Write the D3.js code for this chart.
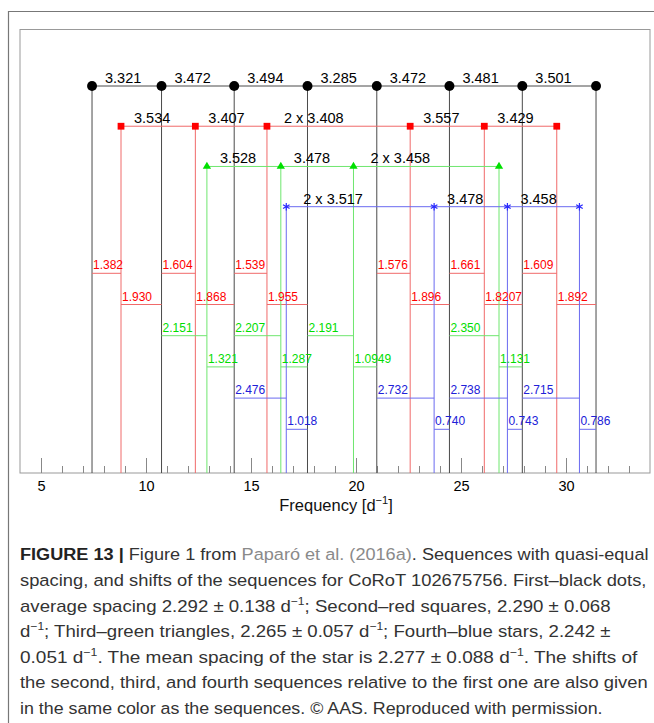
<!DOCTYPE html>
<html>
<head>
<meta charset="utf-8">
<script src="https://cdn.jsdelivr.net/npm/d3@7"></script>
<style>
body{margin:0;background:#fff;}
svg{display:block;font-family:"Liberation Sans",Arial,sans-serif;}
</style>
</head>
<body>
<svg id="graph" width="654" height="723"></svg>
<script>
// frequences des sequences (d-1)
var blackFreq = [7.43, 10.74, 14.20, 17.69, 20.99, 24.45, 27.92, 31.43];
var redFreq   = [8.81, 12.35, 15.76, 22.58, 26.11, 29.56];
var greenFreq = [12.90, 16.42, 19.88, 26.81];
var blueFreq  = [16.68, 23.72, 27.21, 30.64];

// espacements ecrits au dessus de chaque sequence
var blackSpacing = ["3.321", "3.472", "3.494", "3.285", "3.472", "3.481", "3.501"];
var redSpacing   = ["3.534", "3.407", "2 x 3.408", "3.557", "3.429"];
var greenSpacing = ["3.528", "3.478", "2 x 3.458"];
var blueSpacing  = ["2 x 3.517", "3.478", "3.458"];

// decalages par rapport a la premiere sequence (gauche / droite)
var redLeftShift    = ["1.382", "1.604", "1.539", "1.576", "1.661", "1.609"];
var redRightShift   = ["1.930", "1.868", "1.955", "1.896", "1.8207", "1.892"];
var greenLeftShift  = ["2.151", "2.207", "2.191", "2.350"];
var greenRightShift = ["1.321", "1.287", "1.0949", "1.131"];
var blueLeftShift   = ["2.476", "2.732", "2.738", "2.715"];
var blueRightShift  = ["1.018", "0.740", "0.743", "0.786"];

// axe x
var majorTicks = [5, 10, 15, 20, 25, 30];
var minorTicks = d3.range(5, 34);
var xTitle = "Frequency [d";

// legende sous la figure : [texte, style] b=gras g=gris s=exposant
var captionLines = [
  [["FIGURE 13 |", "b"], [" Figure 1 from ", ""], ["Paparó et al. (2016a)", "g"], [". Sequences with quasi-equal", ""]],
  [["spacing, and shifts of the sequences for CoRoT 102675756. First–black dots,", ""]],
  [["average spacing 2.292 ± 0.138 d", ""], ["−1", "s"], ["; Second–red squares, 2.290 ± 0.068", ""]],
  [["d", ""], ["−1", "s"], ["; Third–green triangles, 2.265 ± 0.057 d", ""], ["−1", "s"], ["; Fourth–blue stars, 2.242 ±", ""]],
  [["0.051 d", ""], ["−1", "s"], [". The mean spacing of the star is 2.277 ± 0.088 d", ""], ["−1", "s"], [". The shifts of", ""]],
  [["the second, third, and fourth sequences relative to the first one are also given", ""]],
  [["in the same color as the sequences. © AAS. Reproduced with permission.", ""]]
];
var captionRight = [649, 647, 611, 611, 638, 648, 603];

var svg = d3.select("#graph");
var yBottom = 473;

var scaleX = d3.scaleLinear().domain([4, 34]).range([20, 650]);
// ligne de chaque sequence
var scaleSeq = d3.scaleLinear().domain([0, 3]).range([86, 206.7]);
// lignes des decalages
var scaleShift = d3.scaleLinear().domain([0, 5]).range([273.3, 429.3]);

var seqs = [
  {freq: blackFreq, spacing: blackSpacing, line: "#4a4a4a", mark: "#000", text: "#000", sym: d3.symbolCircle, size: 78, fill: true},
  {freq: redFreq, spacing: redSpacing, line: "#f06a6a", mark: "#ff0000", text: "#ff0000", sym: d3.symbolSquare, size: 46, fill: true,
   left: redLeftShift, right: redRightShift},
  {freq: greenFreq, spacing: greenSpacing, line: "#6ee66e", mark: "#00e000", text: "#00dd00", sym: d3.symbolTriangle, size: 30, fill: true,
   left: greenLeftShift, right: greenRightShift},
  {freq: blueFreq, spacing: blueSpacing, line: "#6a6af0", mark: "#2a2aff", text: "#2020d8", sym: d3.symbolAsterisk, size: 40, fill: false,
   left: blueLeftShift, right: blueRightShift}
];

// cadres
svg.append("path").attr("d", "M8.5,723V11.5H654").attr("fill", "none").attr("stroke", "#777").attr("stroke-width", 1.2);
svg.append("rect").attr("x", 20).attr("y", 29.5).attr("width", 630).attr("height", yBottom - 29.5)
  .attr("fill", "none").attr("stroke", "#999");

// ticks
var gMinor = svg.append("g").attr("transform", "translate(0," + yBottom + ")")
  .call(d3.axisBottom(scaleX).tickValues(minorTicks).tickSize(-7).tickFormat(""));
var gMajor = svg.append("g").attr("transform", "translate(0," + yBottom + ")")
  .call(d3.axisBottom(scaleX).tickValues(majorTicks).tickSize(-15).tickPadding(8));
gMinor.select(".domain").remove();
gMajor.select(".domain").remove();
svg.selectAll(".tick line").attr("stroke", "#888");
gMajor.selectAll("text").attr("font-size", 14.5).attr("fill", "#000").attr("font-family", "Liberation Sans, Arial, sans-serif");

// titre axe
var tt = svg.append("text").attr("x", 336).attr("y", 511).attr("text-anchor", "middle")
  .attr("font-size", 16.5).attr("fill", "#111");
tt.append("tspan").text(xTitle);
tt.append("tspan").attr("dy", -7).attr("font-size", 11).text("−1");
tt.append("tspan").attr("dy", 7).text("]");

var gLines = svg.append("g");
var gMarks = svg.append("g");
var gText = svg.append("g");

seqs.forEach(function(s, k) {
  var y = scaleSeq(k);
  // traits verticaux jusqu'a l'axe
  gLines.selectAll(null).data(s.freq).enter().append("line")
    .attr("x1", function(d) { return scaleX(d); }).attr("x2", function(d) { return scaleX(d); })
    .attr("y1", y).attr("y2", yBottom)
    .attr("stroke", s.line).attr("stroke-width", 1);
  // trait horizontal
  gLines.append("line")
    .attr("x1", scaleX(s.freq[0])).attr("x2", scaleX(s.freq[s.freq.length - 1]))
    .attr("y1", y).attr("y2", y).attr("stroke", s.line);
  // espacements
  gText.selectAll(null).data(s.spacing).enter().append("text")
    .attr("x", function(d, i) { return scaleX(s.freq[i]) + (d.indexOf("x") > 0 ? 17 : 13); })
    .attr("y", y - 3)
    .attr("font-size", 14.5).attr("fill", "#000")
    .text(function(d) { return d; });

  // decalages
  if (s.left) {
    var yl = scaleShift(2 * (k - 1));
    var yr = scaleShift(2 * (k - 1) + 1);
    s.freq.forEach(function(f, i) {
      var prev = d3.max(blackFreq.filter(function(b) { return b < f; }));
      var next = d3.min(blackFreq.filter(function(b) { return b > f; }));
      gLines.append("line").attr("x1", scaleX(prev)).attr("x2", scaleX(f))
        .attr("y1", yl).attr("y2", yl).attr("stroke", s.line);
      gText.append("text").attr("x", scaleX(prev) + 1).attr("y", yl - 4)
        .attr("font-size", 12).attr("fill", s.text).text(s.left[i]);
      gLines.append("line").attr("x1", scaleX(f)).attr("x2", scaleX(next))
        .attr("y1", yr).attr("y2", yr).attr("stroke", s.line);
      gText.append("text").attr("x", scaleX(f) + 1).attr("y", yr - 4)
        .attr("font-size", 12).attr("fill", s.text).text(s.right[i]);
    });
  }

  // marqueurs
  gMarks.selectAll(null).data(s.freq).enter().append("path")
    .attr("transform", function(d) { return "translate(" + scaleX(d) + "," + y + ")"; })
    .attr("d", d3.symbol().type(s.sym).size(s.size))
    .attr("fill", s.fill ? s.mark : "none")
    .attr("stroke", s.fill ? "none" : s.mark).attr("stroke-width", 1.2);
});

// legende
var baseY = [560, 586, 611.5, 637, 662.5, 688, 713.5];
captionLines.forEach(function(parts, li) {
  var t = svg.append("text").attr("font-size", 17).attr("fill", "#333")
    .attr("font-family", "Liberation Sans, Arial, sans-serif");
  var shifted = false;
  parts.forEach(function(p) {
    var ts = t.append("tspan").text(p[0]);
    if (p[1] == "b") ts.attr("font-weight", "bold").attr("fill", "#222");
    if (p[1] == "g") ts.attr("fill", "#8a8a8a");
    if (p[1] == "s") { ts.attr("font-size", 11).attr("dy", -7); shifted = true; }
    else if (shifted) { ts.attr("dy", 7); shifted = false; }
  });
  var w = t.node().getComputedTextLength();
  var k = (captionRight[li] - 20) / w;
  t.attr("transform", "translate(20," + baseY[li] + ") scale(" + k + ",1)");
});
</script>
</body>
</html>
